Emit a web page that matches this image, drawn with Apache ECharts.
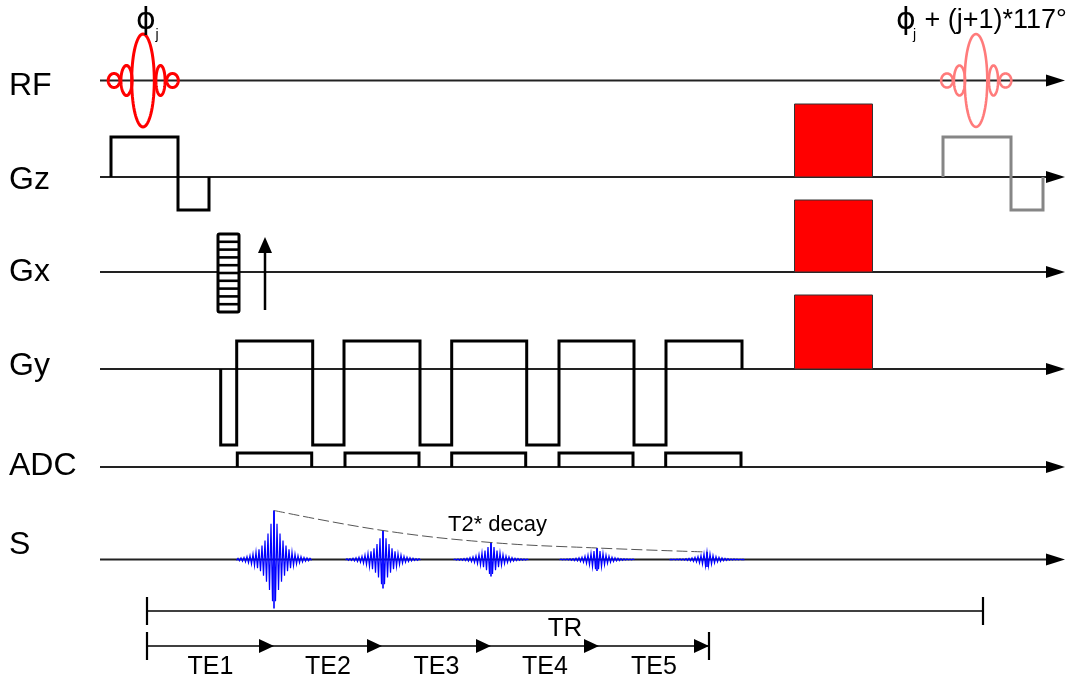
<!DOCTYPE html>
<html><head><meta charset="utf-8">
<script src="https://cdn.jsdelivr.net/npm/echarts@6/dist/echarts.min.js"></script>
<style>html,body{margin:0;padding:0;background:#fff}#c{width:1075px;height:676px}</style>
</head><body><div id="c"></div>
<script>
// ---------- data (time on x, channel level on y) ----------
const rowNames = ['RF', 'Gz', 'Gx', 'Gy', 'ADC', 'S'];
const rowLevels = [80.5, 177, 272, 369, 467, 559.5];
const rowLabelLevels = [86, 180, 272, 366, 466, 545];
const timeStart = 100, timeEnd = 1065, labelTime = 9;

const rfPulseTimes = [143, 976];
const rfLobeOffsets = [0, -16.5, 17.5, -29, 29.5];
const rfLobeWidths = [11.3, 5.6, 4.6, 5.8, 5.8];
const rfLobeHeights = [46.5, 15, 15, 7, 7];

const gzLobesFirst = [[111, 178, 40], [178, 209, -33]];
const gzLobesNext = [[943, 1011, 40], [1011, 1043, -33]];
const gyLobes = [[220.7, 236.7, -76], [236.7, 312.7, 28], [312.7, 344, -76], [344, 420, 28],
                 [420, 451.7, -76], [451.7, 526.7, 28], [526.7, 559, -76], [559, 634, 28],
                 [634, 666, -76], [666, 742, 28]];
const adcWindows = [[237.3, 311.7], [345, 419], [451.7, 525.7], [559, 633], [665.7, 741]];
const adcAmp = 14;
const spoilerRows = [1, 2, 3];
const spoilerAmps = [73, 72, 74];
const spoilerTimes = [794.5, 872.5];
const phaseTable = [218, 239, 38, -40, 10];   // t0, t1, top, bottom, steps
const readoutArrow = [265, -38, 35];          // t, from, to
const echoTimes = [274, 383, 491, 597, 707];
const echoAmps = [49, 29, 17, 11.5, 7.5];
const trSpan = [147, 983], trLevel = 611;
const teMarks = [147, 274, 382, 491, 599, 709], teLevel = 646;
const teLabels = ['TE1', 'TE2', 'TE3', 'TE4', 'TE5'];

// ---------- helpers ----------
const FONT = "'Liberation Sans', Arial, Helvetica, sans-serif";
function lobesToPoints(lobes, base) {
  const pts = [[lobes[0][0], base]];
  lobes.forEach(l => { pts.push([l[0], base - l[2]]); pts.push([l[1], base - l[2]]); });
  pts.push([lobes[lobes.length - 1][1], base]);
  return pts;
}
function gradSeries(pts, color) {
  return { type: 'line', data: pts, showSymbol: false, symbol: 'none', z: 5, silent: true,
    lineStyle: { color: color, width: 3, join: 'miter', cap: 'butt' } };
}
function textEl(api, t, y, str, size, align, va, color, family) {
  const p = api.coord([t, y]);
  return { type: 'text', x: p[0], y: p[1],
    style: { text: str, fontSize: size, fontFamily: family || FONT, fill: color || '#000',
      align: align || 'left', verticalAlign: va || 'middle' } };
}

const option = {
  animation: false,
  backgroundColor: '#fff',
  grid: { left: 0, right: 0, top: 0, bottom: 0 },
  xAxis: { type: 'value', min: 0, max: 1075, show: false },
  yAxis: { type: 'value', min: 0, max: 676, inverse: true, show: false },
  series: [
    // baselines with arrowheads
    { type: 'custom', z: 2, silent: true,
      data: rowLevels.map(l => [timeStart, timeEnd, l]),
      renderItem: (p, api) => {
        const a = api.coord([api.value(0), api.value(2)]);
        const b = api.coord([api.value(1), api.value(2)]);
        return { type: 'group', children: [
          { type: 'line', shape: { x1: a[0], y1: a[1], x2: b[0] - 18, y2: b[1] }, style: { stroke: '#222', lineWidth: 2 } },
          { type: 'polygon', shape: { points: [[b[0], b[1]], [b[0] - 19, b[1] - 6], [b[0] - 19, b[1] + 6]] }, style: { fill: '#000' } }
        ] };
      } },
    // row labels
    { type: 'custom', z: 3, silent: true,
      data: rowNames.map((n, i) => [labelTime, rowLabelLevels[i], n]),
      renderItem: (p, api) => textEl(api, api.value(0), api.value(1), rowNames[p.dataIndex], 32) },
    // RF pulses
    { type: 'custom', z: 6, silent: true,
      data: rfPulseTimes.map(t => [t, rowLevels[0]]),
      renderItem: (p, api) => {
        const color = p.dataIndex === 0 ? '#ff0000' : '#ff7b7b';
        const lw = p.dataIndex === 0 ? 3 : 2.6;
        const children = rfLobeOffsets.map((o, k) => {
          const pts = [];
          for (let i = 0; i < 72; i++) {
            const a = i / 72 * Math.PI * 2;
            pts.push(api.coord([api.value(0) + o + rfLobeWidths[k] * Math.cos(a), api.value(1) + rfLobeHeights[k] * Math.sin(a)]));
          }
          return { type: 'polygon', shape: { points: pts }, style: { fill: null, stroke: color, lineWidth: lw } };
        });
        return { type: 'group', children };
      } },
    // gradients
    gradSeries(lobesToPoints(gzLobesFirst, rowLevels[1]), '#000'),
    gradSeries(lobesToPoints(gzLobesNext, rowLevels[1]), '#868686'),
    gradSeries(lobesToPoints(gyLobes, rowLevels[3]), '#000'),
    // ADC windows
    { type: 'custom', z: 5, silent: true,
      data: adcWindows.map(w => [w[0], w[1], rowLevels[4]]),
      renderItem: (p, api) => {
        const b = api.value(2);
        const pts = [[api.value(0), b], [api.value(0), b - adcAmp], [api.value(1), b - adcAmp], [api.value(1), b]].map(q => api.coord(q));
        return { type: 'polyline', shape: { points: pts }, style: { stroke: '#000', lineWidth: 3, fill: null, lineJoin: 'miter' } };
      } },
    // spoiler gradients
    { type: 'custom', z: 6, silent: true,
      data: spoilerRows.map((r, i) => [spoilerTimes[0], spoilerTimes[1], rowLevels[r], spoilerAmps[i]]),
      renderItem: (p, api) => {
        const a = api.coord([api.value(0), api.value(2) - api.value(3)]);
        const b = api.coord([api.value(1), api.value(2)]);
        return { type: 'rect', shape: { x: a[0], y: a[1], width: b[0] - a[0], height: b[1] - a[1] },
          style: { fill: '#ff0000', stroke: '#333', lineWidth: 1 } };
      } },
    // phase-encoding table
    { type: 'custom', z: 6, silent: true,
      data: [[phaseTable[0], phaseTable[1], rowLevels[2] - phaseTable[2], rowLevels[2] - phaseTable[3], phaseTable[4]]],
      renderItem: (p, api) => {
        const a = api.coord([api.value(0), api.value(2)]);
        const b = api.coord([api.value(1), api.value(3)]);
        const n = api.value(4);
        const ch = [{ type: 'rect', shape: { x: a[0], y: a[1], width: b[0] - a[0], height: b[1] - a[1], r: 1.5 },
          style: { fill: '#fff', stroke: '#000', lineWidth: 3 } }];
        for (let k = 1; k < n; k++) {
          const y = a[1] + (b[1] - a[1]) * k / n;
          ch.push({ type: 'line', shape: { x1: a[0], y1: y, x2: b[0], y2: y }, style: { stroke: '#000', lineWidth: 2.6 } });
        }
        return { type: 'group', children: ch };
      } },
    // readout direction arrow
    { type: 'custom', z: 6, silent: true,
      data: [[readoutArrow[0], rowLevels[2] - readoutArrow[1], rowLevels[2] - readoutArrow[2]]],
      renderItem: (p, api) => {
        const a = api.coord([api.value(0), api.value(1)]);
        const b = api.coord([api.value(0), api.value(2)]);
        return { type: 'group', children: [
          { type: 'line', shape: { x1: a[0], y1: a[1], x2: b[0], y2: b[1] + 14 }, style: { stroke: '#000', lineWidth: 2.5 } },
          { type: 'polygon', shape: { points: [[b[0], b[1]], [b[0] - 7, b[1] + 16], [b[0] + 7, b[1] + 16]] }, style: { fill: '#000' } }
        ] };
      } },
    // echoes
    { type: 'custom', z: 6, silent: true,
      data: echoTimes.map((t, i) => [t, echoAmps[i], rowLevels[5]]),
      renderItem: (p, api) => {
        const c = api.value(0), amp = api.value(1), base = api.value(2);
        const pts = [];
        let s = -1;
        for (let k = 0; k <= 50; k++) {
          const d = -37.5 + k * 1.5;
          const e = amp * Math.exp(-Math.abs(d) / 9.5);
          pts.push(api.coord([c + d, base - s * e]));
          s = -s;
        }
        const top = api.coord([c, base - amp]), bot = api.coord([c, base + amp]);
        return { type: 'group', children: [
          { type: 'polyline', shape: { points: pts }, style: { stroke: '#0000ff', lineWidth: 1.2, fill: null } },
          { type: 'line', shape: { x1: top[0], y1: top[1], x2: bot[0], y2: bot[1] }, style: { stroke: '#0000ff', lineWidth: 1.6 } }
        ] };
      } },
    // T2* decay envelope
    { type: 'line', z: 7, silent: true, showSymbol: false, symbol: 'none', smooth: 0.4,
      data: echoTimes.map((t, i) => [t, rowLevels[5] - echoAmps[i]]),
      lineStyle: { color: '#555', width: 1, type: [11, 4] } },
    // TR and TE timing bars
    { type: 'custom', z: 6, silent: true,
      data: [0],
      renderItem: (p, api) => {
        const ch = [];
        const a = api.coord([trSpan[0], trLevel]), b = api.coord([trSpan[1], trLevel]);
        ch.push({ type: 'line', shape: { x1: a[0], y1: a[1], x2: b[0], y2: b[1] }, style: { stroke: '#000', lineWidth: 1.6 } });
        [a, b].forEach(q => ch.push({ type: 'line', shape: { x1: q[0], y1: q[1] - 14, x2: q[0], y2: q[1] + 14 }, style: { stroke: '#000', lineWidth: 2.2 } }));
        const m = teMarks.map(t => api.coord([t, teLevel]));
        ch.push({ type: 'line', shape: { x1: m[0][0], y1: m[0][1], x2: m[m.length - 1][0], y2: m[0][1] }, style: { stroke: '#000', lineWidth: 1.6 } });
        [m[0], m[m.length - 1]].forEach(q => ch.push({ type: 'line', shape: { x1: q[0], y1: q[1] - 14, x2: q[0], y2: q[1] + 14 }, style: { stroke: '#000', lineWidth: 2.2 } }));
        m.slice(1).forEach(q => ch.push({ type: 'polygon', shape: { points: [[q[0], q[1]], [q[0] - 15, q[1] - 7], [q[0] - 15, q[1] + 7]] }, style: { fill: '#000' } }));
        return { type: 'group', children: ch };
      } },
    // TE labels
    { type: 'custom', z: 6, silent: true,
      data: teLabels.map((l, i) => [(teMarks[i] + teMarks[i + 1]) / 2, teLevel + 21]),
      renderItem: (p, api) => textEl(api, api.value(0), api.value(1), teLabels[p.dataIndex], 25, 'center') },
    // other annotations
    { type: 'custom', z: 8, silent: true,
      data: [0],
      renderItem: (p, api) => ({ type: 'group', children: [
        textEl(api, (trSpan[0] + trSpan[1]) / 2, trLevel + 18, 'TR', 26, 'center'),
        textEl(api, 448, 525, 'T2* decay', 22, 'left'),
        textEl(api, rfPulseTimes[0] + 3, 21, 'ϕ', 30, 'center', 'middle', '#000', "'DejaVu Sans', sans-serif"),
        textEl(api, rfPulseTimes[0] + 14, 35, 'j', 14, 'center'),
        textEl(api, 896, 21, 'ϕ', 30, 'left', 'middle', '#000', "'DejaVu Sans', sans-serif"),
        textEl(api, 913, 35, 'j', 14, 'left'),
        textEl(api, 917, 21, ' + (j+1)*117°', 27, 'left')
      ] }) }
  ]
};
const chart = echarts.init(document.getElementById('c'), null, { renderer: 'canvas' });
chart.setOption(option);
</script></body></html>
